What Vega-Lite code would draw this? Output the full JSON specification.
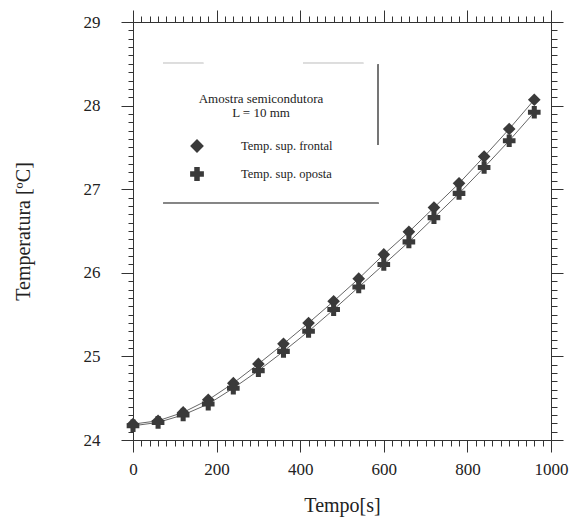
{
  "$schema": "https://vega.github.io/schema/vega-lite/v6.json",
  "width": 418,
  "height": 418,
  "autosize": {"type": "none"},
  "padding": {"left": 133, "top": 22, "right": 19, "bottom": 78},
  "background": "white",
  "config": {
    "view": {"stroke": null},
    "font": "Liberation Serif",
    "axis": {"labelFont": "Liberation Serif", "titleFont": "Liberation Serif", "labelColor": "#222", "titleColor": "#222", "tickColor": "#333", "domainColor": "#333", "grid": false, "titleFontWeight": "normal", "tickWidth": 1, "domainWidth": 1}
  },
  "data": {
    "values": [
      {"t": 0, "serie": "Temp. sup. frontal", "temp": 24.19},
      {"t": 60, "serie": "Temp. sup. frontal", "temp": 24.23},
      {"t": 120, "serie": "Temp. sup. frontal", "temp": 24.33},
      {"t": 180, "serie": "Temp. sup. frontal", "temp": 24.48},
      {"t": 240, "serie": "Temp. sup. frontal", "temp": 24.68},
      {"t": 300, "serie": "Temp. sup. frontal", "temp": 24.91},
      {"t": 360, "serie": "Temp. sup. frontal", "temp": 25.15},
      {"t": 420, "serie": "Temp. sup. frontal", "temp": 25.4},
      {"t": 480, "serie": "Temp. sup. frontal", "temp": 25.66},
      {"t": 540, "serie": "Temp. sup. frontal", "temp": 25.93},
      {"t": 600, "serie": "Temp. sup. frontal", "temp": 26.22},
      {"t": 660, "serie": "Temp. sup. frontal", "temp": 26.49},
      {"t": 720, "serie": "Temp. sup. frontal", "temp": 26.78},
      {"t": 780, "serie": "Temp. sup. frontal", "temp": 27.07},
      {"t": 840, "serie": "Temp. sup. frontal", "temp": 27.39},
      {"t": 900, "serie": "Temp. sup. frontal", "temp": 27.72},
      {"t": 960, "serie": "Temp. sup. frontal", "temp": 28.07},
      {"t": 0, "serie": "Temp. sup. oposta", "temp": 24.17},
      {"t": 60, "serie": "Temp. sup. oposta", "temp": 24.21},
      {"t": 120, "serie": "Temp. sup. oposta", "temp": 24.3},
      {"t": 180, "serie": "Temp. sup. oposta", "temp": 24.43},
      {"t": 240, "serie": "Temp. sup. oposta", "temp": 24.62},
      {"t": 300, "serie": "Temp. sup. oposta", "temp": 24.83},
      {"t": 360, "serie": "Temp. sup. oposta", "temp": 25.06},
      {"t": 420, "serie": "Temp. sup. oposta", "temp": 25.3},
      {"t": 480, "serie": "Temp. sup. oposta", "temp": 25.56},
      {"t": 540, "serie": "Temp. sup. oposta", "temp": 25.83},
      {"t": 600, "serie": "Temp. sup. oposta", "temp": 26.1},
      {"t": 660, "serie": "Temp. sup. oposta", "temp": 26.37},
      {"t": 720, "serie": "Temp. sup. oposta", "temp": 26.66},
      {"t": 780, "serie": "Temp. sup. oposta", "temp": 26.95},
      {"t": 840, "serie": "Temp. sup. oposta", "temp": 27.26},
      {"t": 900, "serie": "Temp. sup. oposta", "temp": 27.58},
      {"t": 960, "serie": "Temp. sup. oposta", "temp": 27.92}
    ]
  },
  "resolve": {"axis": {"x": "independent", "y": "independent"}},
  "layer": [
    {
      "transform": [{"filter": "datum.serie === 'Temp. sup. frontal'"}],
      "mark": {"type": "line", "color": "#555", "strokeWidth": 0.9},
      "encoding": {
        "x": {"field": "t", "type": "quantitative", "scale": {"domain": [0, 1000], "nice": false, "zero": false},
          "axis": {"orient": "bottom", "values": [0, 200, 400, 600, 800, 1000], "format": "d", "tickSize": 12, "labelPadding": 9, "labelFontSize": 17, "title": "Tempo[s]", "titleFontSize": 20, "titlePadding": 18, "labelFlush": false}},
        "y": {"field": "temp", "type": "quantitative", "scale": {"domain": [24, 29], "nice": false, "zero": false},
          "axis": {"orient": "left", "values": [24, 25, 26, 27, 28, 29], "format": "d", "tickSize": 12, "labelPadding": 21, "labelFontSize": 17, "title": "Temperatura [ºC]", "titleFontSize": 20, "titlePadding": 50, "labelFlush": false}}
      }
    },
    {
      "transform": [{"filter": "datum.serie === 'Temp. sup. oposta'"}],
      "mark": {"type": "line", "color": "#555", "strokeWidth": 0.9},
      "encoding": {
        "x": {"field": "t", "type": "quantitative",
          "axis": {"orient": "bottom", "values": [0,20,40,60,80,100,120,140,160,180,200,220,240,260,280,300,320,340,360,380,400,420,440,460,480,500,520,540,560,580,600,620,640,660,680,700,720,740,760,780,800,820,840,860,880,900,920,940,960,980,1000], "tickSize": 6, "labels": false, "domain": false, "title": null}},
        "y": {"field": "temp", "type": "quantitative",
          "axis": {"orient": "left", "values": [24,24.1,24.2,24.3,24.4,24.5,24.6,24.7,24.8,24.9,25,25.1,25.2,25.3,25.4,25.5,25.6,25.7,25.8,25.9,26,26.1,26.2,26.3,26.4,26.5,26.6,26.7,26.8,26.9,27,27.1,27.2,27.3,27.4,27.5,27.6,27.7,27.8,27.9,28,28.1,28.2,28.3,28.4,28.5,28.6,28.7,28.8,28.9,29], "tickSize": 5, "labels": false, "domain": false, "title": null}}
      }
    },
    {
      "mark": {"type": "point", "filled": true, "color": "#3a3a3a", "opacity": 1, "size": 160},
      "encoding": {
        "x": {"field": "t", "type": "quantitative",
          "axis": {"orient": "top", "values": [0, 200, 400, 600, 800, 1000], "tickSize": 12, "labels": false, "title": null}},
        "y": {"field": "temp", "type": "quantitative",
          "axis": {"orient": "right", "values": [24, 25, 26, 27, 28, 29], "tickSize": 12, "labels": false, "title": null}},
        "shape": {"field": "serie", "type": "nominal",
          "scale": {"domain": ["Temp. sup. frontal", "Temp. sup. oposta"], "range": ["diamond", "cross"]},
          "legend": {"orient": "none", "legendX": 56, "legendY": 71, "title": ["Amostra semicondutora", "L = 10 mm"], "titleFont": "Liberation Serif", "titleFontWeight": "normal", "titleFontSize": 13, "titleColor": "#222", "titleAnchor": "middle", "titleAlign": "center", "titleLineHeight": 14, "titlePadding": 18, "labelFont": "Liberation Serif", "labelFontSize": 12.5, "labelColor": "#222", "labelOffset": 36, "symbolSize": 190, "symbolFillColor": "#3a3a3a", "symbolStrokeColor": "#3a3a3a", "rowPadding": 8}}
      }
    },
    {
      "mark": {"type": "point", "opacity": 0},
      "encoding": {
        "x": {"field": "t", "type": "quantitative",
          "axis": {"orient": "top", "values": [0,20,40,60,80,100,120,140,160,180,200,220,240,260,280,300,320,340,360,380,400,420,440,460,480,500,520,540,560,580,600,620,640,660,680,700,720,740,760,780,800,820,840,860,880,900,920,940,960,980,1000], "tickSize": 6, "labels": false, "domain": false, "title": null}},
        "y": {"field": "temp", "type": "quantitative",
          "axis": {"orient": "right", "values": [24,24.1,24.2,24.3,24.4,24.5,24.6,24.7,24.8,24.9,25,25.1,25.2,25.3,25.4,25.5,25.6,25.7,25.8,25.9,26,26.1,26.2,26.3,26.4,26.5,26.6,26.7,26.8,26.9,27,27.1,27.2,27.3,27.4,27.5,27.6,27.7,27.8,27.9,28,28.1,28.2,28.3,28.4,28.5,28.6,28.7,28.8,28.9,29], "tickSize": 6, "labels": false, "domain": false, "title": null}}
      }
    },
    {
      "mark": {"type": "rule", "color": "#888", "strokeWidth": 1},
      "encoding": {"x": {"datum": 72, "type": "quantitative", "axis": null}, "x2": {"datum": 587}, "y": {"datum": 26.83, "type": "quantitative", "axis": null}}
    },
    {
      "mark": {"type": "rule", "color": "#777", "strokeWidth": 1},
      "encoding": {"x": {"datum": 587, "type": "quantitative", "axis": null}, "y": {"datum": 28.49, "type": "quantitative", "axis": null}, "y2": {"datum": 27.53}}
    },
    {
      "mark": {"type": "rule", "color": "#ddd", "strokeWidth": 1, "strokeDash": [40, 100, 60, 200]},
      "encoding": {"x": {"datum": 72, "type": "quantitative", "axis": null}, "x2": {"datum": 587}, "y": {"datum": 28.51, "type": "quantitative", "axis": null}}
    }
  ]
}
